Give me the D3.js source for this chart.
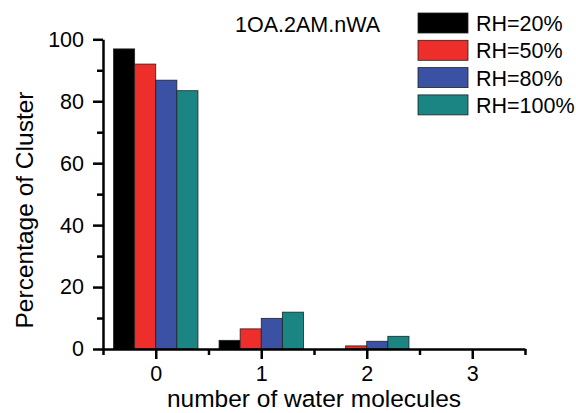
<!DOCTYPE html>
<html lang="en">
<head>
    <meta charset="utf-8">
    <script src="https://cdn.jsdelivr.net/npm/d3@7"></script>
    <style>
        body { margin: 0; background: #fff; }
        text { font-family: "Liberation Sans", Arial, sans-serif; fill: #000; }
    </style>
</head>
<body>
<script>
    // data
    let waters = [0, 1, 2, 3];
    let series = ["RH=20%", "RH=50%", "RH=80%", "RH=100%"];
    let rh20 = [96.9, 2.8, 0, 0];
    let rh50 = [92.0, 6.5, 1.0, 0];
    let rh80 = [86.8, 9.9, 2.5, 0];
    let rh100 = [83.4, 11.9, 4.1, 0];
    let colors = ["#000000", "#ee2e2b", "#3b51a3", "#1b8583"];
    let yTicks = [0, 20, 40, 60, 80, 100];
    let yMinor = [10, 30, 50, 70, 90];
    let xMinor = [-0.5, 0.5, 1.5, 2.5, 3.5];
    let title = "1OA.2AM.nWA";

    let values = [rh20, rh50, rh80, rh100];

    let w = 576, h = 413;
    let mLeft = 103, mRight = 525, mTop = 39.3, mBottom = 349;

    let svg = d3.select("body").append("svg")
        .attr("width", w)
        .attr("height", h);

    let x = d3.scaleLinear().domain([-0.5, 3.5]).range([mLeft, mRight]);
    let y = d3.scaleLinear().domain([0, 100]).range([mBottom, mTop]);
    // position of each series inside a group (group spans 0.8 units)
    let inner = d3.scaleBand().domain(series).range([-0.4, 0.4]);

    // bars
    let rows = [];
    waters.forEach(function (n, i) {
        series.forEach(function (s, j) {
            rows.push({ n: n, s: s, j: j, v: values[j][i] });
        });
    });

    svg.append("g").selectAll("rect")
        .data(rows.filter(function (d) { return d.v > 0; }))
        .join("rect")
        .attr("x", function (d) { return x(d.n + inner(d.s)); })
        .attr("y", function (d) { return y(d.v); })
        .attr("width", function (d) { return x(inner.bandwidth()) - x(0); })
        .attr("height", function (d) { return y(0) - y(d.v); })
        .attr("fill", function (d) { return colors[d.j]; })
        .attr("stroke", "#222")
        .attr("stroke-width", 0.8);

    // axes
    svg.append("g")
        .attr("transform", "translate(0," + mBottom + ")")
        .call(d3.axisBottom(x).tickValues(waters).tickFormat(d3.format("d"))
            .tickSize(10).tickSizeOuter(0).tickPadding(7));
    svg.append("g")
        .attr("transform", "translate(0," + mBottom + ")")
        .call(d3.axisBottom(x).tickValues(xMinor).tickFormat("").tickSize(6).tickSizeOuter(0))
        .select(".domain").remove();

    svg.append("g")
        .attr("transform", "translate(" + mLeft + ",0)")
        .call(d3.axisLeft(y).tickValues(yTicks).tickSize(10).tickSizeOuter(0).tickPadding(9));
    svg.append("g")
        .attr("transform", "translate(" + mLeft + ",0)")
        .call(d3.axisLeft(y).tickValues(yMinor).tickFormat("").tickSize(6).tickSizeOuter(0))
        .select(".domain").remove();

    svg.selectAll(".domain").attr("stroke", "#000").attr("stroke-width", 2.5);
    svg.selectAll(".tick line").attr("stroke", "#000").attr("stroke-width", 2.5);
    svg.selectAll(".tick text")
        .style("font-family", "'Liberation Sans', Arial, sans-serif")
        .style("font-size", "21.5px")
        .attr("fill", "#000");

    // axis titles
    svg.append("text")
        .attr("x", (mLeft + mRight) / 2)
        .attr("y", 407)
        .attr("text-anchor", "middle")
        .style("font-size", "24.5px")
        .text("number of water molecules");

    svg.append("text")
        .attr("transform", "translate(33,210) rotate(-90)")
        .attr("text-anchor", "middle")
        .style("font-size", "24.5px")
        .text("Percentage of Cluster");

    // title
    svg.append("text")
        .attr("x", 235)
        .attr("y", 32)
        .style("font-size", "21.5px")
        .text(title);

    // legend
    let legend = svg.append("g").selectAll("g")
        .data(series)
        .join("g")
        .attr("transform", function (d, i) { return "translate(418," + (13 + i * 27.3) + ")"; });
    legend.append("rect")
        .attr("width", 50)
        .attr("height", 20)
        .attr("fill", function (d, i) { return colors[i]; })
        .attr("stroke", "#222")
        .attr("stroke-width", 0.8);
    legend.append("text")
        .attr("x", 58)
        .attr("y", 18)
        .style("font-size", "21.5px")
        .text(function (d) { return d; });
</script>
</body>
</html>
